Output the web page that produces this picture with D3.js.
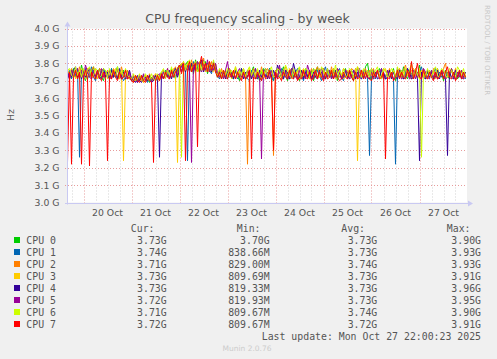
<!DOCTYPE html>
<html>
<head>
<meta charset="utf-8">
<script src="https://cdn.jsdelivr.net/npm/d3@7"></script>
<style>
  html, body { margin: 0; padding: 0; background: #f0f0f0; }
  svg { display: block; }
  text { font-family: "DejaVu Sans", sans-serif; fill: #555; }
  .mono { font-family: "DejaVu Sans Mono", monospace; }
</style>
</head>
<body>
<div id="chart"></div>
<script>
const width = 497;
const height = 359;
const margin = { top: 28.5, right: 30, bottom: 156.5, left: 67 };

// hourly samples (GHz), first sample Oct 19 16:00 UTC
const firstSample = Date.UTC(2025, 9, 19, 16, 0);
const xStart = Date.UTC(2025, 9, 19, 15, 45);
const xEnd = Date.UTC(2025, 9, 27, 23, 45);

const cpuNames = ["CPU 0", "CPU 1", "CPU 2", "CPU 3", "CPU 4", "CPU 5", "CPU 6", "CPU 7"];
const cpuColors = ["#00cc00", "#0066b3", "#ff8000", "#ffcc00", "#330099", "#990099", "#ccff00", "#ff0000"];

const cpu0 = [
  3.76,3.71,3.74,3.77,3.72,3.75,3.71,3.79,3.73,3.70,3.76,3.72,3.75,3.78,3.71,3.74,3.77,3.72,3.70,3.76,
  3.73,3.71,3.77,3.72,3.75,3.78,3.71,3.73,3.76,3.72,3.74,3.71,3.72,3.70,3.73,3.69,3.71,3.72,3.70,3.73,
  3.71,3.69,3.72,3.70,3.73,3.71,3.72,3.75,3.71,3.76,3.73,3.72,3.77,3.74,3.71,3.76,3.78,3.80,3.75,3.79,
  3.81,3.76,3.79,3.74,3.82,3.77,3.75,3.80,3.76,3.81,3.74,3.79,3.76,3.80,3.77,3.72,3.75,3.71,3.76,3.73,
  3.75,3.77,3.72,3.71,3.76,3.73,3.70,3.77,3.74,3.71,3.76,3.72,3.75,3.78,3.71,3.74,3.70,3.75,3.77,3.72,
  3.74,3.77,3.71,3.70,3.76,3.73,3.72,3.75,3.78,3.73,3.70,3.75,3.77,3.72,3.76,3.73,3.70,3.76,3.72,3.77,
  3.73,3.71,3.76,3.70,3.74,3.78,3.72,3.73,3.77,3.71,3.75,3.76,3.72,3.77,3.74,3.70,3.76,3.72,3.73,3.77,
  3.72,3.76,3.73,3.70,3.77,3.72,3.75,3.76,3.71,3.78,3.80,3.73,3.70,3.76,3.72,3.75,3.77,3.71,3.74,3.72,
  3.76,3.72,3.73,3.77,3.70,3.75,3.76,3.72,3.78,3.73,3.71,3.76,3.74,3.72,3.77,3.73,3.79,3.72,3.76,3.71,
  3.75,3.72,3.76,3.71,3.74,3.77,3.72,3.75,3.70,3.76,3.73,3.71,3.77,3.72,3.74,3.71,3.73,3.76,3.74,3.72
];
const cpu1 = [
  3.72,3.76,3.71,3.75,3.73,3.77,3.26,3.75,3.72,3.77,3.71,3.74,3.78,3.72,3.70,3.76,3.73,3.71,3.77,3.72,
  3.75,3.71,3.77,3.72,3.74,3.71,3.76,3.73,3.70,3.72,3.76,3.72,3.70,3.72,3.71,3.69,3.72,3.73,3.70,3.71,
  3.69,3.73,3.70,3.72,3.71,3.70,3.73,3.71,3.76,3.72,3.75,3.71,3.76,3.73,3.72,3.77,3.79,3.75,3.80,3.76,
  3.24,3.79,3.75,3.81,3.76,3.80,3.75,3.79,3.82,3.75,3.80,3.76,3.74,3.79,3.77,3.73,3.71,3.76,3.72,3.75,
  3.71,3.76,3.73,3.72,3.77,3.71,3.75,3.72,3.76,3.73,3.71,3.70,3.76,3.73,3.77,3.72,3.75,3.70,3.76,3.73,
  3.72,3.77,3.73,3.70,3.76,3.72,3.75,3.77,3.71,3.76,3.73,3.71,3.76,3.71,3.75,3.77,3.72,3.73,3.70,3.76,
  3.72,3.75,3.71,3.77,3.72,3.76,3.73,3.70,3.75,3.78,3.72,3.75,3.71,3.76,3.72,3.75,3.77,3.72,3.70,3.76,
  3.73,3.71,3.76,3.72,3.75,3.77,3.71,3.75,3.72,3.76,3.73,3.27,3.72,3.76,3.71,3.75,3.72,3.77,3.73,3.71,
  3.72,3.76,3.73,3.71,3.22,3.75,3.72,3.76,3.71,3.75,3.77,3.72,3.73,3.71,3.76,3.72,3.75,3.78,3.72,3.75,
  3.71,3.76,3.72,3.75,3.77,3.71,3.75,3.72,3.76,3.71,3.75,3.72,3.77,3.73,3.71,3.72,3.76,3.72,3.75,3.71
];
const cpu2 = [
  3.76,3.73,3.77,3.72,3.76,3.73,3.78,3.72,3.76,3.73,3.77,3.72,3.76,3.78,3.73,3.71,3.77,3.76,3.73,3.72,
  3.76,3.73,3.72,3.77,3.73,3.76,3.72,3.78,3.73,3.72,3.76,3.73,3.71,3.70,3.73,3.72,3.70,3.73,3.69,3.73,
  3.70,3.74,3.71,3.70,3.74,3.71,3.70,3.75,3.76,3.72,3.77,3.73,3.72,3.76,3.78,3.73,3.77,3.79,3.81,3.76,
  3.80,3.75,3.82,3.77,3.76,3.81,3.75,3.80,3.83,3.76,3.79,3.75,3.81,3.76,3.80,3.74,3.73,3.77,3.72,3.76,
  3.73,3.77,3.74,3.72,3.78,3.73,3.76,3.72,3.77,3.73,3.22,3.76,3.72,3.77,3.73,3.76,3.72,3.78,3.73,3.76,
  3.77,3.73,3.72,3.27,3.76,3.73,3.77,3.72,3.76,3.78,3.73,3.72,3.77,3.76,3.73,3.72,3.77,3.73,3.76,3.72,
  3.76,3.73,3.77,3.72,3.76,3.78,3.73,3.72,3.77,3.73,3.76,3.72,3.78,3.73,3.76,3.77,3.72,3.73,3.77,3.76,
  3.73,3.72,3.77,3.76,3.73,3.78,3.72,3.76,3.73,3.77,3.72,3.76,3.73,3.77,3.72,3.76,3.73,3.72,3.77,3.76,
  3.73,3.77,3.72,3.76,3.73,3.72,3.77,3.73,3.76,3.79,3.73,3.72,3.76,3.77,3.73,3.72,3.76,3.73,3.77,3.72,
  3.76,3.73,3.72,3.77,3.73,3.76,3.72,3.73,3.77,3.80,3.73,3.72,3.76,3.73,3.77,3.72,3.73,3.76,3.72,3.73
];
const cpu3 = [
  3.77,3.72,3.73,3.76,3.71,3.75,3.72,3.77,3.73,3.71,3.72,3.76,3.73,3.72,3.77,3.71,3.73,3.76,3.72,3.75,
  3.71,3.76,3.72,3.75,3.77,3.72,3.71,3.75,3.24,3.72,3.75,3.71,3.72,3.69,3.73,3.70,3.72,3.70,3.69,3.73,
  3.70,3.73,3.69,3.71,3.74,3.70,3.73,3.72,3.75,3.71,3.76,3.72,3.75,3.77,3.72,3.23,3.78,3.80,3.75,3.79,
  3.76,3.81,3.75,3.80,3.77,3.75,3.81,3.76,3.80,3.75,3.79,3.81,3.76,3.75,3.79,3.73,3.72,3.76,3.71,3.75,
  3.72,3.76,3.71,3.75,3.77,3.72,3.75,3.71,3.76,3.72,3.75,3.77,3.71,3.75,3.72,3.76,3.73,3.71,3.72,3.76,
  3.73,3.71,3.76,3.72,3.75,3.77,3.72,3.71,3.76,3.73,3.72,3.77,3.71,3.75,3.72,3.76,3.71,3.75,3.77,3.72,
  3.75,3.71,3.72,3.76,3.73,3.71,3.77,3.72,3.75,3.71,3.76,3.72,3.75,3.77,3.71,3.72,3.76,3.73,3.71,3.72,
  3.76,3.72,3.75,3.71,3.77,3.24,3.72,3.75,3.76,3.71,3.75,3.72,3.77,3.71,3.75,3.76,3.72,3.71,3.75,3.77,
  3.72,3.75,3.71,3.76,3.72,3.75,3.77,3.71,3.75,3.72,3.76,3.73,3.71,3.72,3.77,3.73,3.71,3.76,3.72,3.75,
  3.71,3.76,3.72,3.75,3.71,3.77,3.72,3.75,3.76,3.71,3.72,3.75,3.77,3.72,3.71,3.75,3.76,3.72,3.71,3.75
];
const cpu4 = [
  3.71,3.75,3.72,3.76,3.78,3.72,3.75,3.71,3.76,3.72,3.75,3.77,3.71,3.75,3.72,3.76,3.71,3.75,3.77,3.72,
  3.75,3.71,3.76,3.72,3.75,3.71,3.77,3.72,3.75,3.71,3.72,3.76,3.71,3.70,3.69,3.73,3.70,3.69,3.73,3.72,
  3.70,3.73,3.69,3.70,3.73,3.70,3.26,3.74,3.71,3.75,3.72,3.76,3.71,3.75,3.77,3.72,3.76,3.78,3.80,3.75,
  3.79,3.76,3.80,3.75,3.81,3.76,3.79,3.82,3.75,3.80,3.76,3.79,3.75,3.81,3.76,3.73,3.76,3.72,3.75,3.71,
  3.76,3.72,3.75,3.71,3.76,3.73,3.72,3.77,3.71,3.75,3.72,3.76,3.71,3.75,3.72,3.71,3.76,3.72,3.75,3.77,
  3.71,3.75,3.72,3.76,3.71,3.79,3.75,3.72,3.71,3.76,3.75,3.71,3.72,3.80,3.75,3.71,3.72,3.76,3.71,3.75,
  3.72,3.76,3.71,3.75,3.72,3.71,3.76,3.75,3.72,3.71,3.77,3.72,3.75,3.71,3.76,3.72,3.75,3.71,3.72,3.76,
  3.71,3.75,3.72,3.76,3.71,3.75,3.72,3.71,3.76,3.75,3.72,3.71,3.77,3.72,3.75,3.71,3.72,3.76,3.75,3.71,
  3.72,3.76,3.71,3.75,3.72,3.71,3.76,3.75,3.71,3.72,3.77,3.75,3.71,3.72,3.76,3.71,3.24,3.75,3.72,3.71,
  3.76,3.72,3.75,3.71,3.72,3.76,3.71,3.75,3.72,3.71,3.27,3.75,3.72,3.71,3.76,3.72,3.75,3.71,3.72,3.75
];
const cpu5 = [
  3.75,3.71,3.76,3.72,3.75,3.77,3.72,3.76,3.71,3.79,3.75,3.72,3.71,3.76,3.72,3.75,3.71,3.77,3.72,3.75,
  3.72,3.76,3.71,3.75,3.72,3.77,3.75,3.71,3.72,3.76,3.71,3.75,3.70,3.73,3.70,3.69,3.73,3.70,3.74,3.70,
  3.73,3.70,3.69,3.73,3.70,3.73,3.74,3.71,3.75,3.72,3.77,3.71,3.75,3.72,3.76,3.73,3.79,3.75,3.80,3.76,
  3.79,3.75,3.23,3.80,3.76,3.81,3.79,3.75,3.80,3.76,3.82,3.75,3.79,3.76,3.80,3.74,3.72,3.75,3.71,3.76,
  3.81,3.73,3.72,3.76,3.71,3.75,3.77,3.72,3.75,3.71,3.76,3.72,3.75,3.71,3.77,3.72,3.75,3.25,3.76,3.72,
  3.75,3.71,3.76,3.72,3.75,3.71,3.79,3.72,3.76,3.75,3.71,3.72,3.77,3.75,3.72,3.71,3.76,3.72,3.75,3.71,
  3.79,3.75,3.72,3.71,3.76,3.72,3.75,3.77,3.71,3.75,3.72,3.76,3.71,3.75,3.72,3.77,3.75,3.71,3.72,3.76,
  3.75,3.71,3.72,3.76,3.75,3.71,3.77,3.72,3.75,3.71,3.76,3.72,3.75,3.71,3.72,3.76,3.75,3.77,3.71,3.72,
  3.76,3.72,3.75,3.71,3.72,3.77,3.75,3.71,3.72,3.76,3.75,3.71,3.72,3.76,3.71,3.75,3.72,3.71,3.77,3.75,
  3.72,3.71,3.76,3.72,3.75,3.71,3.72,3.76,3.75,3.71,3.72,3.75,3.77,3.72,3.71,3.75,3.72,3.76,3.71,3.72
];
const cpu6 = [
  3.76,3.77,3.73,3.72,3.78,3.73,3.76,3.72,3.77,3.73,3.76,3.78,3.72,3.73,3.77,3.76,3.72,3.73,3.77,3.76,
  3.72,3.77,3.73,3.76,3.72,3.78,3.73,3.76,3.72,3.77,3.73,3.72,3.71,3.74,3.70,3.71,3.74,3.70,3.71,3.74,
  3.71,3.70,3.74,3.71,3.70,3.74,3.71,3.75,3.77,3.72,3.76,3.73,3.78,3.72,3.76,3.77,3.79,3.26,3.81,3.76,
  3.80,3.82,3.76,3.79,3.81,3.75,3.80,3.76,3.81,3.79,3.75,3.80,3.76,3.82,3.75,3.73,3.77,3.72,3.76,3.73,
  3.77,3.72,3.76,3.73,3.78,3.72,3.76,3.73,3.77,3.72,3.76,3.78,3.73,3.76,3.72,3.77,3.73,3.76,3.72,3.77,
  3.73,3.76,3.78,3.72,3.73,3.77,3.76,3.72,3.73,3.79,3.76,3.73,3.72,3.77,3.73,3.76,3.78,3.72,3.73,3.77,
  3.76,3.72,3.73,3.77,3.76,3.73,3.72,3.78,3.76,3.73,3.77,3.72,3.76,3.73,3.79,3.72,3.76,3.73,3.77,3.72,
  3.73,3.77,3.76,3.72,3.73,3.78,3.76,3.72,3.77,3.73,3.76,3.72,3.77,3.73,3.76,3.78,3.72,3.73,3.77,3.76,
  3.72,3.73,3.77,3.76,3.72,3.78,3.73,3.76,3.72,3.77,3.73,3.76,3.80,3.72,3.76,3.73,3.77,3.26,3.76,3.72,
  3.77,3.73,3.72,3.76,3.78,3.73,3.72,3.77,3.76,3.73,3.72,3.77,3.76,3.73,3.72,3.78,3.76,3.73,3.77,3.72
];
const cpu7 = [
  3.23,3.75,3.22,3.72,3.76,3.71,3.75,3.22,3.72,3.76,3.71,3.21,3.75,3.72,3.71,3.76,3.72,3.70,3.75,3.71,
  3.24,3.72,3.71,3.76,3.72,3.70,3.75,3.71,3.72,3.76,3.71,3.72,3.70,3.69,3.73,3.70,3.69,3.73,3.70,3.69,
  3.73,3.70,3.69,3.23,3.70,3.73,3.70,3.74,3.71,3.75,3.72,3.71,3.76,3.72,3.75,3.77,3.79,3.74,3.80,3.24,
  3.76,3.81,3.75,3.79,3.80,3.32,3.79,3.84,3.76,3.80,3.75,3.81,3.76,3.80,3.75,3.72,3.75,3.71,3.76,3.72,
  3.71,3.75,3.72,3.76,3.71,3.75,3.72,3.70,3.75,3.71,3.72,3.76,3.25,3.72,3.71,3.75,3.72,3.70,3.75,3.71,
  3.72,3.76,3.71,3.30,3.75,3.71,3.72,3.70,3.75,3.72,3.71,3.76,3.72,3.71,3.75,3.70,3.72,3.71,3.76,3.72,
  3.71,3.75,3.70,3.72,3.76,3.71,3.75,3.72,3.70,3.75,3.71,3.72,3.76,3.71,3.75,3.72,3.70,3.71,3.75,3.72,
  3.71,3.76,3.72,3.70,3.75,3.71,3.72,3.76,3.71,3.75,3.72,3.71,3.70,3.75,3.72,3.76,3.71,3.72,3.75,3.25,
  3.72,3.71,3.75,3.70,3.72,3.76,3.71,3.75,3.72,3.71,3.76,3.72,3.81,3.71,3.75,3.80,3.72,3.71,3.76,3.72,
  3.71,3.75,3.72,3.70,3.75,3.71,3.72,3.76,3.71,3.75,3.78,3.72,3.71,3.75,3.70,3.72,3.76,3.71,3.75,3.72
];

const curValues = ["3.73G", "3.74G", "3.71G", "3.73G", "3.73G", "3.72G", "3.71G", "3.72G"];
const minValues = ["3.70G", "838.66M", "829.00M", "809.69M", "819.33M", "819.93M", "809.67M", "809.67M"];
const avgValues = ["3.73G", "3.73G", "3.74G", "3.73G", "3.73G", "3.73G", "3.74G", "3.72G"];
const maxValues = ["3.90G", "3.93G", "3.93G", "3.91G", "3.96G", "3.95G", "3.90G", "3.91G"];

const yTicks = [3.0, 3.1, 3.2, 3.3, 3.4, 3.5, 3.6, 3.7, 3.8, 3.9, 4.0];

const series = [cpu0, cpu1, cpu2, cpu3, cpu4, cpu5, cpu6, cpu7].map((vals, k) => ({
  name: cpuNames[k],
  color: cpuColors[k],
  points: vals.map((v, i) => ({ t: new Date(firstSample + i * 3600e3), v })),
}));

const svg = d3
  .select("#chart")
  .append("svg")
  .attr("width", width)
  .attr("height", height)
  .attr("viewBox", `0 0 ${width} ${height}`);

svg.append("rect").attr("width", width).attr("height", height).attr("fill", "#f0f0f0");

const plotLeft = margin.left;
const plotRight = width - margin.right;
const plotTop = margin.top;
const plotBottom = height - margin.bottom;

const x = d3.scaleUtc().domain([new Date(xStart), new Date(xEnd)]).range([plotLeft, plotRight]);
const y = d3.scaleLinear().domain([3.0, 4.0]).range([plotBottom, plotTop]);

svg
  .append("rect")
  .attr("x", plotLeft)
  .attr("y", plotTop)
  .attr("width", plotRight - plotLeft)
  .attr("height", plotBottom - plotTop)
  .attr("fill", "#ffffff");

// minor vertical grid every 6 hours
const minor = d3.utcHour.every(6).range(x.domain()[0], x.domain()[1]).filter((d) => d.getUTCHours() !== 0);
svg
  .append("g")
  .selectAll("line")
  .data(minor)
  .join("line")
  .attr("x1", (d) => Math.round(x(d)) + 0.5)
  .attr("x2", (d) => Math.round(x(d)) + 0.5)
  .attr("y1", plotTop)
  .attr("y2", plotBottom)
  .attr("stroke", "#d2d2d2")
  .attr("stroke-dasharray", "1,2");

const days = d3.utcDay.range(x.domain()[0], x.domain()[1]);
svg
  .append("g")
  .selectAll("line")
  .data(days)
  .join("line")
  .attr("x1", (d) => Math.round(x(d)) + 0.5)
  .attr("x2", (d) => Math.round(x(d)) + 0.5)
  .attr("y1", plotTop)
  .attr("y2", plotBottom + 2)
  .attr("stroke", "#e79b9b")
  .attr("stroke-dasharray", "1,2");

svg
  .append("g")
  .selectAll("line")
  .data(yTicks)
  .join("line")
  .attr("x1", plotLeft - 2)
  .attr("x2", plotRight)
  .attr("y1", (d) => Math.round(y(d)) + 0.5)
  .attr("y2", (d) => Math.round(y(d)) + 0.5)
  .attr("stroke", "#e79b9b")
  .attr("stroke-dasharray", "1,2");

// series
const line = d3
  .line()
  .x((d) => x(d.t))
  .y((d) => y(d.v));

svg
  .append("clipPath")
  .attr("id", "clip")
  .append("rect")
  .attr("x", plotLeft)
  .attr("y", plotTop - 5)
  .attr("width", plotRight - plotLeft)
  .attr("height", plotBottom - plotTop + 5);

svg
  .append("g")
  .attr("clip-path", "url(#clip)")
  .selectAll("path")
  .data(series)
  .join("path")
  .attr("fill", "none")
  .attr("stroke", (d) => d.color)
  .attr("stroke-width", 1)
  .attr("d", (d) => line(d.points));

// axes
const axisColor = "#c9c9f2";
svg
  .append("line")
  .attr("x1", plotLeft + 0.5)
  .attr("x2", plotLeft + 0.5)
  .attr("y1", plotBottom + 2)
  .attr("y2", plotTop - 4)
  .attr("stroke", axisColor);
svg
  .append("path")
  .attr("d", `M${plotLeft - 2.5},${plotTop - 2} L${plotLeft + 3.5},${plotTop - 2} L${plotLeft + 0.5},${plotTop - 7} Z`)
  .attr("fill", axisColor);
svg
  .append("line")
  .attr("x1", plotLeft - 2)
  .attr("x2", plotRight + 2)
  .attr("y1", Math.round(y(3.0)) + 0.5)
  .attr("y2", Math.round(y(3.0)) + 0.5)
  .attr("stroke", axisColor);
svg
  .append("path")
  .attr("d", `M${plotRight + 1},${Math.round(y(3.0)) - 2.5} L${plotRight + 1},${Math.round(y(3.0)) + 3.5} L${plotRight + 6},${Math.round(y(3.0)) + 0.5} Z`)
  .attr("fill", axisColor);

svg
  .append("g")
  .selectAll("text")
  .data(yTicks)
  .join("text")
  .attr("x", plotLeft - 7.5)
  .attr("y", (d) => y(d) + 3.4)
  .attr("text-anchor", "end")
  .attr("font-size", "9.3px")
  .text((d) => `${d.toFixed(1)} G`);

const fmtDay = d3.utcFormat("%d %b");
svg
  .append("g")
  .selectAll("text")
  .data(days)
  .join("text")
  .attr("x", (d) => x(d3.utcHour.offset(d, 12)))
  .attr("y", plotBottom + 13.5)
  .attr("text-anchor", "middle")
  .attr("font-size", "9.3px")
  .text(fmtDay);

svg
  .append("text")
  .attr("x", 247.5)
  .attr("y", 23)
  .attr("text-anchor", "middle")
  .attr("font-size", "12.5px")
  .text("CPU frequency scaling - by week");

svg
  .append("text")
  .attr("transform", "translate(13.5,115) rotate(-90)")
  .attr("text-anchor", "middle")
  .attr("font-size", "9.3px")
  .text("Hz");

svg
  .append("text")
  .attr("transform", "translate(485,5) rotate(90)")
  .attr("font-size", "7px")
  .style("fill", "#c8c8c8")
  .text("RRDTOOL / TOBI OETIKER");

// legend
const legend = svg.append("g").attr("class", "mono").attr("font-size", "9.85px");
const rowY = (i) => 243.5 + i * 12;
const colEnds = [166.7, 269.7, 377.3, 481];
const headers = ["Cur:", "Min:", "Avg:", "Max:"];
const headerEnds = [154.5, 260.5, 365, 470.5];

legend
  .selectAll("text.head")
  .data(headers)
  .join("text")
  .attr("class", "head mono")
  .attr("x", (d, i) => headerEnds[i])
  .attr("y", 231.5)
  .attr("text-anchor", "end")
  .text((d) => d);

const rows = legend
  .selectAll("g.row")
  .data(series)
  .join("g")
  .attr("class", "row");

rows
  .append("rect")
  .attr("x", 14)
  .attr("y", (d, i) => rowY(i) - 6.5)
  .attr("width", 6)
  .attr("height", 6)
  .attr("fill", (d) => d.color);

rows
  .append("text")
  .attr("class", "mono")
  .attr("x", 26.3)
  .attr("y", (d, i) => rowY(i))
  .text((d) => d.name);

[curValues, minValues, avgValues, maxValues].forEach((vals, c) => {
  rows
    .append("text")
    .attr("class", "mono")
    .attr("x", colEnds[c])
    .attr("y", (d, i) => rowY(i))
    .attr("text-anchor", "end")
    .text((d, i) => vals[i]);
});

legend
  .append("text")
  .attr("class", "mono")
  .attr("x", 481)
  .attr("y", rowY(8))
  .attr("text-anchor", "end")
  .text("Last update: Mon Oct 27 22:00:23 2025");

svg
  .append("text")
  .attr("x", 247)
  .attr("y", 351)
  .attr("text-anchor", "middle")
  .attr("font-size", "7.5px")
  .style("fill", "#cccccc")
  .text("Munin 2.0.76");
</script>
</body>
</html>
